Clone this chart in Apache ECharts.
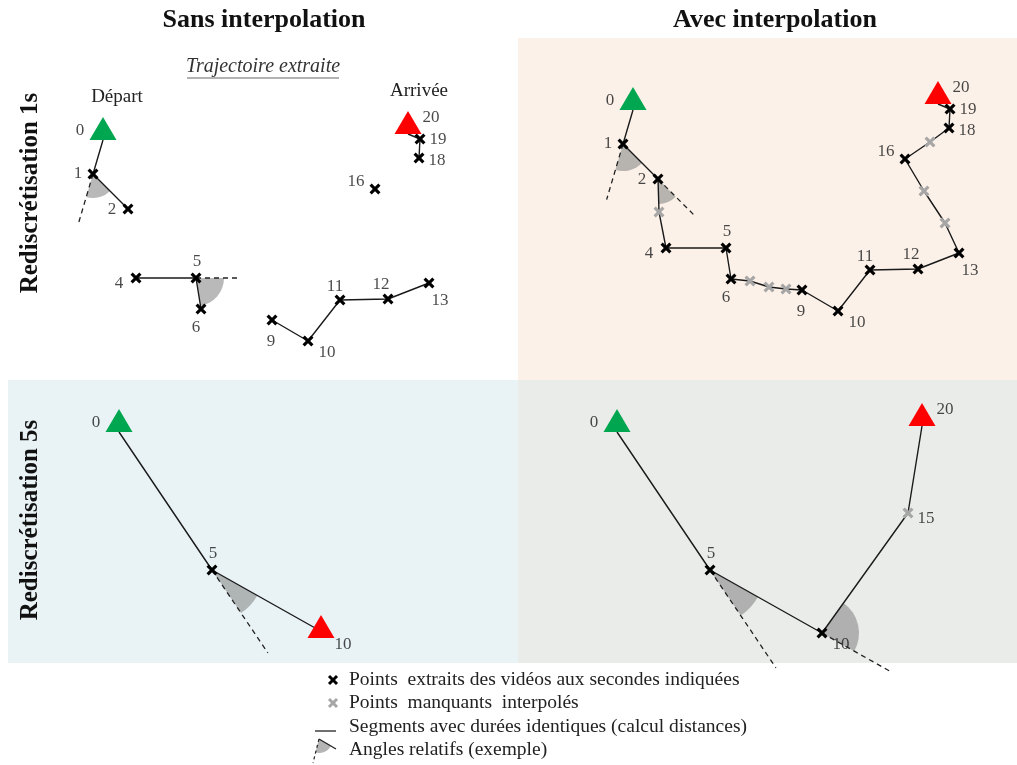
<!DOCTYPE html>
<html>
<head>
<meta charset="utf-8">
<script src="https://cdn.jsdelivr.net/npm/echarts@6/dist/echarts.min.js"></script>
<style>html,body{margin:0;padding:0;background:#fff}#c{width:1017px;height:765px}</style>
</head>
<body>
<div id="c"></div>
<script>
// ---- Data (trajectory in metres, same frame for all panels) ----
const extractedTimes = [0, 1, 2, 4, 5, 6, 9, 10, 11, 12, 13, 16, 18, 19, 20];
const extractedX = [4.3, 3.3, 6.8, 7.6, 13.6, 14.1, 21.2, 24.8, 28.0, 32.8, 36.9, 31.5, 35.9, 36.0, 34.8];
const extractedY = [22.0, 18.6, 15.1, 8.2, 8.2, 5.1, 4.0, 1.9, 6.0, 6.1, 7.7, 17.1, 20.2, 22.1, 22.6];
const interpTimes = [3, 7, 7.5, 8, 14, 15, 17];
const interpX = [6.9, 16.0, 17.9, 19.6, 35.5, 33.4, 34.0];
const interpY = [11.8, 4.9, 4.3, 4.1, 10.7, 13.9, 18.8];
const columnTitles = ['Sans interpolation', 'Avec interpolation'];
const rowTitles = ['Rediscrétisation 1s', 'Rediscrétisation 5s'];
const legendLabels = [
  'Points  extraits des vidéos aux secondes indiquées',
  'Points  manquants  interpolés',
  'Segments avec durées identiques (calcul distances)',
  'Angles relatifs (exemple)'
];
const angleVertices = { tl: [1, 5], tr: [1, 2], bl: [5], br: [5, 10] };

// ---- Layout / style (kept apart from data) ----
const SERIF = '"Liberation Serif", "Times New Roman", serif';
const panels = [
  { key: 'tl', left: 60, top: 60, interp: false, step: 1, endOffset: [0, '-50%'] },
  { key: 'tr', left: 590, top: 30, interp: true, step: 1, endOffset: [0, '-50%'] },
  { key: 'bl', left: 76, top: 352, interp: false, step: 5, endOffset: [-3, -6.5] },
  { key: 'br', left: 574, top: 352, interp: true, step: 5, endOffset: [0, '-50%'] }
];
const angleStyle = {
  tl: { 1: { r: 24, dash: 50 }, 5: { r: 28, dash: 44 } },
  tr: { 1: { r: 27, dash: 58 }, 2: { r: 25, dash: 52 } },
  bl: { 5: { r: 52, dash: 100 } },
  br: { 5: { r: 55, dash: 118 }, 10: { r: 37, dash: 78 } }
};
const labelOffset = {
  0: [-23, -9], 1: [-15, 0], 2: [-16, 1], 4: [-17, 6], 5: [1, -16], 6: [-5, 19],
  9: [-1, 22], 10: [19, 12], 11: [-5, -13], 12: [-7, -14], 13: [11, 18], 15: [18, 6],
  16: [-19, -7], 18: [18, 3], 19: [18, 1], 20: [23, -16]
};
const CROSS = 'path://M0,2 L2,0 L5,3 L8,0 L10,2 L7,5 L10,8 L8,10 L5,7 L2,10 L0,8 L3,5 Z';

function buildSeq(panel) {
  const ext = extractedTimes.map((t, i) => ({ t, x: extractedX[i], y: extractedY[i], kind: 'ext' }));
  const itp = interpTimes.map((t, i) => ({ t, x: interpX[i], y: interpY[i], kind: 'int' }));
  const pool = (panel.interp ? ext.concat(itp) : ext).sort((a, b) => a.t - b.t);
  if (panel.step === 1) return pool;
  const out = [];
  for (let t = 0; t <= 20; t += panel.step) {
    const p = pool.find(q => q.t === t);
    if (!p) break;
    out.push(p);
  }
  return out;
}

const grids = [], xAxes = [], yAxes = [], series = [];
panels.forEach((panel, gi) => {
  grids.push({ left: panel.left, top: panel.top, width: 400, height: 300, show: false });
  xAxes.push({ type: 'value', gridIndex: gi, min: 0, max: 40, show: false });
  yAxes.push({ type: 'value', gridIndex: gi, min: 0, max: 30, show: false });
  const seq = buildSeq(panel);
  const axis = { xAxisIndex: gi, yAxisIndex: gi };

  // angle wedges + dashed extensions
  const wedgeData = [], wedgeSt = [];
  angleVertices[panel.key].forEach(t => {
    const i = seq.findIndex(p => p.t === t);
    if (i <= 0 || i >= seq.length - 1) return;
    const v = seq[i], p = seq[i - 1], n = seq[i + 1];
    wedgeData.push([v.x, v.y, p.x, p.y, n.x, n.y]);
    wedgeSt.push(angleStyle[panel.key][t]);
  });
  series.push(Object.assign({
    type: 'custom', z: 1, silent: true, clip: false, data: wedgeData,
    renderItem: (params, api) => {
      const v = api.coord([api.value(0), api.value(1)]);
      const p = api.coord([api.value(2), api.value(3)]);
      const n = api.coord([api.value(4), api.value(5)]);
      const st = wedgeSt[params.dataIndex];
      const a1 = Math.atan2(v[1] - p[1], v[0] - p[0]);
      const a2 = Math.atan2(n[1] - v[1], n[0] - v[0]);
      let d = a2 - a1;
      while (d > Math.PI) d -= 2 * Math.PI;
      while (d <= -Math.PI) d += 2 * Math.PI;
      const s = d >= 0 ? a1 : a2;
      return {
        type: 'group', children: [
          { type: 'sector', shape: { cx: v[0], cy: v[1], r0: 0, r: st.r, startAngle: s, endAngle: s + Math.abs(d), clockwise: true },
            style: { fill: 'rgba(128,128,128,0.55)' } },
          { type: 'line', shape: { x1: v[0], y1: v[1], x2: v[0] + Math.cos(a1) * st.dash, y2: v[1] + Math.sin(a1) * st.dash },
            style: { stroke: '#222', lineWidth: 1.3, lineDash: [5, 4] } }
        ]
      };
    }
  }, axis));

  // segments
  let run = [seq[0]];
  const runs = [];
  for (let i = 1; i < seq.length; i++) {
    const a = seq[i - 1], b = seq[i];
    if (panel.interp || b.t - a.t === panel.step) run.push(b);
    else { runs.push(run); run = [b]; }
  }
  runs.push(run);
  runs.filter(r => r.length > 1).forEach(r => {
    series.push(Object.assign({
      type: 'line', z: 2, silent: true, clip: false, symbol: 'none', animation: false,
      data: r.map(p => [p.x, p.y]),
      lineStyle: { color: '#1a1a1a', width: 1.4 }
    }, axis));
  });

  const inner = seq.slice(1, -1);
  // extracted points
  series.push(Object.assign({
    type: 'scatter', z: 3, silent: true, symbol: CROSS, symbolSize: 11,
    itemStyle: { color: '#000', opacity: 1 },
    data: inner.filter(p => p.kind === 'ext').map(p => [p.x, p.y])
  }, axis));
  // interpolated points
  series.push(Object.assign({
    type: 'scatter', z: 3, silent: true, symbol: CROSS, symbolSize: 11,
    itemStyle: { color: '#a6a6a6', opacity: 1 },
    data: inner.filter(p => p.kind === 'int').map(p => [p.x, p.y])
  }, axis));
  // start / end triangles
  const first = seq[0], last = seq[seq.length - 1];
  series.push(Object.assign({
    type: 'scatter', z: 4, silent: true, symbol: 'triangle', symbolSize: [27, 23], symbolOffset: [0, '-50%'],
    itemStyle: { opacity: 1 },
    data: [{ value: [first.x, first.y], itemStyle: { color: '#00a650', opacity: 1 } }]
  }, axis));
  series.push(Object.assign({
    type: 'scatter', z: 4, silent: true, symbol: 'triangle', symbolSize: [27, 23], symbolOffset: panel.endOffset,
    itemStyle: { opacity: 1 },
    data: [{ value: [last.x, last.y], itemStyle: { color: '#ff0000', opacity: 1 } }]
  }, axis));
  // labels
  series.push(Object.assign({
    type: 'scatter', z: 5, silent: true, symbolSize: 1, itemStyle: { color: 'rgba(0,0,0,0)' },
    label: { show: true, position: 'inside', fontFamily: SERIF, fontSize: 17, color: '#1a1a1a',
      formatter: p => String(p.value[2]) },
    data: seq.filter(p => p.kind === 'ext' || panel.step !== 1).map(p => ({
      value: [p.x, p.y, p.t], label: { offset: labelOffset[p.t] || [0, 0] }
    }))
  }, axis));
});

// ---- Decorations: panel backgrounds, titles, legend ----
const graphics = [
  { type: 'rect', z: -10, shape: { x: 518, y: 38, width: 499, height: 342 }, style: { fill: '#fbf1e9' } },
  { type: 'rect', z: -10, shape: { x: 8, y: 380, width: 510, height: 283 }, style: { fill: '#e9f3f6' } },
  { type: 'rect', z: -10, shape: { x: 518, y: 380, width: 499, height: 283 }, style: { fill: '#eaecea' } },
  { type: 'text', x: 264, y: 20, style: { text: columnTitles[0], font: 'bold 26px ' + SERIF, fill: '#111', textAlign: 'center', textVerticalAlign: 'middle' } },
  { type: 'text', x: 775, y: 20, style: { text: columnTitles[1], font: 'bold 26px ' + SERIF, fill: '#111', textAlign: 'center', textVerticalAlign: 'middle' } },
  { type: 'text', x: 31, y: 193, rotation: Math.PI / 2, style: { text: rowTitles[0], font: 'bold 25px ' + SERIF, fill: '#111', textAlign: 'center', textVerticalAlign: 'middle' } },
  { type: 'text', x: 31, y: 520, rotation: Math.PI / 2, style: { text: rowTitles[1], font: 'bold 25px ' + SERIF, fill: '#111', textAlign: 'center', textVerticalAlign: 'middle' } },
  { type: 'text', x: 263, y: 67, style: { text: 'Trajectoire extraite', font: 'italic 20px ' + SERIF, fill: '#333', textAlign: 'center', textVerticalAlign: 'middle' } },
  { type: 'line', shape: { x1: 187, y1: 78, x2: 339, y2: 78 }, style: { stroke: '#999', lineWidth: 1.5 } },
  { type: 'text', x: 117, y: 97, style: { text: 'Départ', font: '19px ' + SERIF, fill: '#222', textAlign: 'center', textVerticalAlign: 'middle' } },
  { type: 'text', x: 419, y: 91, style: { text: 'Arrivée', font: '19px ' + SERIF, fill: '#222', textAlign: 'center', textVerticalAlign: 'middle' } },
  // legend icons
  { type: 'line', shape: { x1: 329, y1: 676, x2: 337, y2: 684 }, style: { stroke: '#000', lineWidth: 3 } },
  { type: 'line', shape: { x1: 329, y1: 684, x2: 337, y2: 676 }, style: { stroke: '#000', lineWidth: 3 } },
  { type: 'line', shape: { x1: 329, y1: 699, x2: 337, y2: 707 }, style: { stroke: '#a6a6a6', lineWidth: 3 } },
  { type: 'line', shape: { x1: 329, y1: 707, x2: 337, y2: 699 }, style: { stroke: '#a6a6a6', lineWidth: 3 } },
  { type: 'line', shape: { x1: 315, y1: 731, x2: 336, y2: 731 }, style: { stroke: '#222', lineWidth: 1.3 } },
  { type: 'sector', shape: { cx: 319, cy: 739, r0: 0, r: 14, startAngle: 0.53, endAngle: 1.83, clockwise: true }, style: { fill: '#b5b5b5' } },
  { type: 'line', shape: { x1: 319, y1: 739, x2: 336, y2: 749 }, style: { stroke: '#222', lineWidth: 1.3 } },
  { type: 'line', shape: { x1: 319, y1: 739, x2: 313, y2: 763 }, style: { stroke: '#222', lineWidth: 1.2, lineDash: [3, 3] } }
];
legendLabels.forEach((txt, i) => {
  graphics.push({ type: 'text', x: 349, y: 680 + i * 23.3,
    style: { text: txt, font: '19.5px ' + SERIF, fill: '#222', textAlign: 'left', textVerticalAlign: 'middle' } });
});

const chart = echarts.init(document.getElementById('c'));
chart.setOption({
  animation: false,
  backgroundColor: '#ffffff',
  grid: grids,
  xAxis: xAxes,
  yAxis: yAxes,
  series: series,
  graphic: { elements: graphics }
});
</script>
</body>
</html>
